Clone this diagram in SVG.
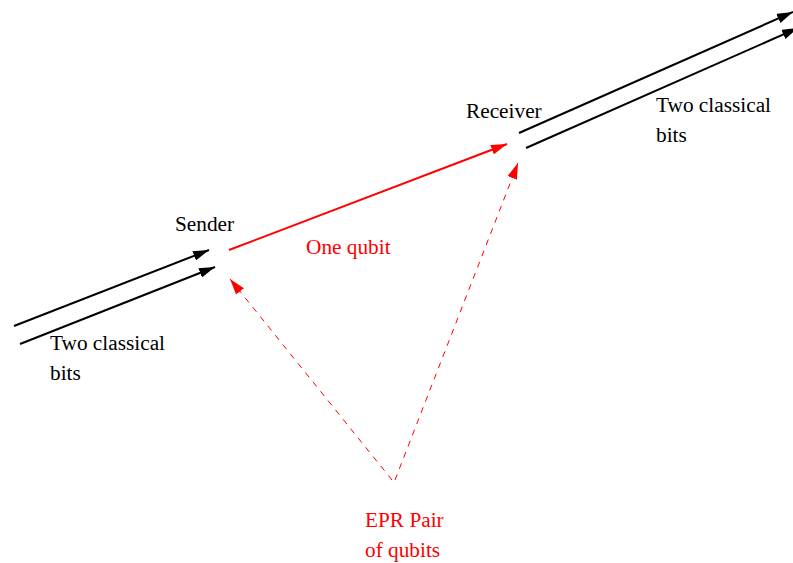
<svg xmlns="http://www.w3.org/2000/svg" width="793" height="563" viewBox="0 0 793 563">
<defs>
<marker id="ab" markerWidth="16" markerHeight="10" refX="16" refY="5" orient="auto" markerUnits="userSpaceOnUse"><path d="M0,0 L16,5 L0,10 z" fill="#000"/></marker>
<marker id="ar" markerWidth="16" markerHeight="10" refX="16" refY="5" orient="auto" markerUnits="userSpaceOnUse"><path d="M0,0 L16,5 L0,10 z" fill="#f00"/></marker>
</defs>
<style>
.t{font-family:"Liberation Serif","Times New Roman",serif;font-size:21.3px}
.k{fill:#000}.r{fill:#f00}
.cb{stroke:#000;stroke-width:2;fill:none;marker-end:url(#ab)}
.cr{stroke:#f00;stroke-width:2;fill:none;marker-end:url(#ar)}
.cd{stroke:#f00;stroke-width:1;fill:none;stroke-dasharray:6,6;marker-end:url(#ar)}
</style>
<g id="sender"><text class="t k" x="175" y="231">Sender</text></g>
<g id="receiver"><text class="t k" x="466" y="118">Receiver</text></g>
<g id="epr"><text class="t r" x="365" y="527">EPR Pair</text><text class="t r" x="365" y="557">of qubits</text></g>
<g id="connectors">
<line class="cb" x1="14" y1="326" x2="209" y2="250"/>
<line class="cb" x1="20" y1="344" x2="215" y2="267"/>
<line class="cr" x1="229" y1="250" x2="507" y2="144"/>
<line class="cb" x1="519" y1="133" x2="793" y2="12"/>
<line class="cb" x1="526" y1="148" x2="798" y2="28"/>
<line class="cd" x1="392" y1="480" x2="230" y2="279"/>
<line class="cd" x1="395" y1="480" x2="518" y2="163"/>
<text class="t r" x="306" y="254">One qubit</text>
<text class="t k" x="50" y="350">Two classical</text>
<text class="t k" x="50" y="380">bits</text>
<text class="t k" x="656" y="112">Two classical</text>
<text class="t k" x="656" y="142">bits</text>
</g>
</svg>
